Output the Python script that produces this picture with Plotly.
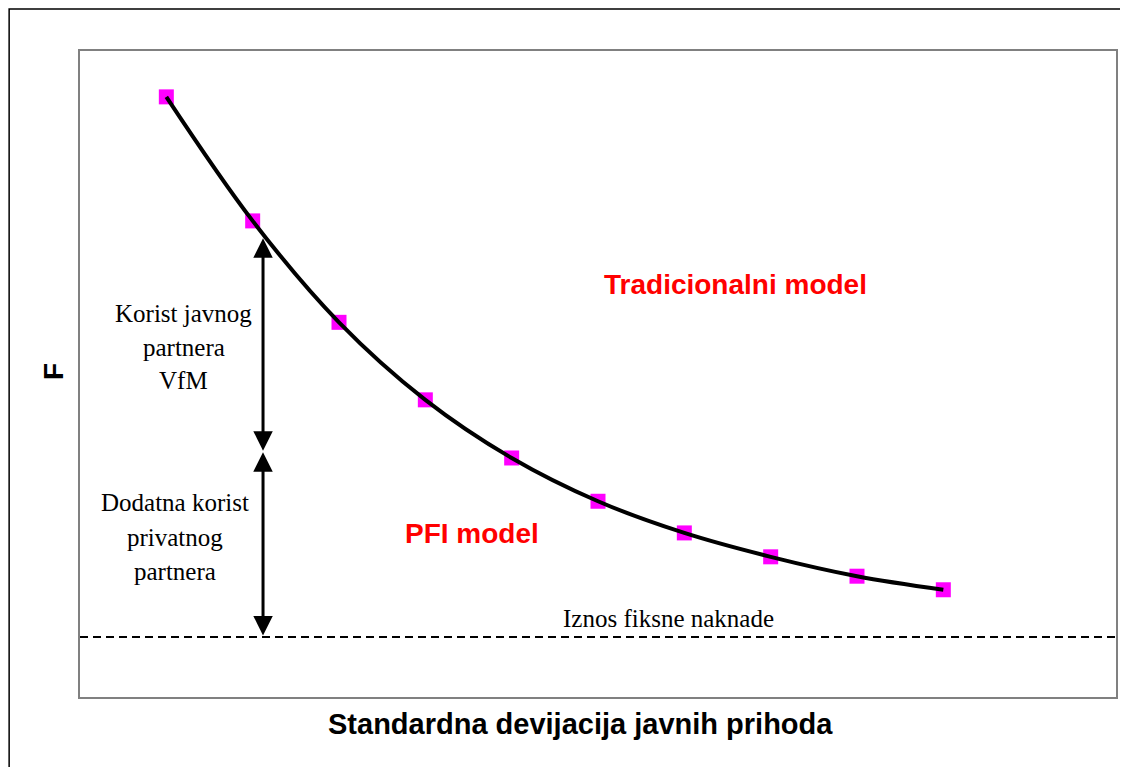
import plotly.graph_objects as go

# Data
x_points = [1, 2, 3, 4, 5, 6, 7, 8, 9, 10]
y_points = [92.9, 73.7, 58.0, 46.0, 37.0, 30.3, 25.4, 21.7, 18.7, 16.6]
fixed_fee = 9.3
arrow_x = 2.12
arrow_top = 71.0
arrow_mid = 37.9

korist_lines = ["Korist javnog", "partnera", "VfM"]
dodatna_lines = ["Dodatna korist", "privatnog", "partnera"]

# page body has an 8px margin: compensate so the plot lands where the reference has it
OFF = 8
W, H = 1128 - OFF, 767 - OFF
L, R, T, B = 80 - OFF, 10, 51 - OFF, 70
pw, ph = W - L - R, H - T - B


def px_to_paper_x(px):
    return (px - OFF - L) / pw


def py_to_paper_y(py):
    return (H - B - (py - OFF)) / ph


def py_to_val(py):
    return py_to_paper_y(py) * 100


def px_to_val(px):
    return px_to_paper_x(px) * 12


fig = go.Figure()

fig.add_trace(go.Scatter(
    x=x_points, y=y_points, mode="markers",
    marker=dict(symbol="square", size=15, color="#FF00FF", line=dict(width=0)),
    hoverinfo="skip", showlegend=False))
fig.add_trace(go.Scatter(
    x=x_points, y=y_points, mode="lines",
    line=dict(color="black", width=4, shape="spline"),
    hoverinfo="skip", showlegend=False))
fig.add_trace(go.Scatter(
    x=[0, 12], y=[fixed_fee, fixed_fee], mode="lines",
    line=dict(color="black", width=2, dash="8px,5px"),
    hoverinfo="skip", showlegend=False))

annotations = []
for (y_head, y_tail) in [(arrow_top, arrow_mid), (arrow_mid, fixed_fee)]:
    annotations.append(dict(
        x=arrow_x, y=y_head, ax=arrow_x, ay=y_tail, xref="x", yref="y",
        axref="x", ayref="y", text="", showarrow=True,
        arrowhead=2, startarrowhead=2, arrowside="end+start",
        arrowsize=1.3, startarrowsize=1.3, arrowwidth=3, arrowcolor="black",
        standoff=0, startstandoff=0))

serif = "Liberation Serif, Times New Roman, serif"
sans = "Liberation Sans, Arial, sans-serif"

for txt, py in zip(korist_lines, [313, 347, 380]):
    annotations.append(dict(x=px_to_val(184), y=py_to_val(py), xref="x", yref="y",
                            text=txt, showarrow=False, xanchor="center", yanchor="middle",
                            font=dict(family=serif, size=25, color="black")))
for txt, py in zip(dodatna_lines, [502, 537, 571]):
    annotations.append(dict(x=px_to_val(175), y=py_to_val(py), xref="x", yref="y",
                            text=txt, showarrow=False, xanchor="center", yanchor="middle",
                            font=dict(family=serif, size=25, color="black")))

annotations.append(dict(x=px_to_val(670), y=py_to_val(618), xref="x", yref="y",
                        text="Iznos fiksne naknade", showarrow=False,
                        xanchor="center", yanchor="middle",
                        font=dict(family=serif, size=25, color="black")))
annotations.append(dict(x=px_to_val(737), y=py_to_val(284), xref="x", yref="y",
                        text="<b>Tradicionalni model</b>", showarrow=False,
                        xanchor="center", yanchor="middle",
                        font=dict(family=sans, size=28, color="#FF0000")))
annotations.append(dict(x=px_to_val(473), y=py_to_val(533), xref="x", yref="y",
                        text="<b>PFI model</b>", showarrow=False,
                        xanchor="center", yanchor="middle",
                        font=dict(family=sans, size=28, color="#FF0000")))
annotations.append(dict(x=px_to_paper_x(581), y=py_to_paper_y(724), xref="paper", yref="paper",
                        text="<b>Standardna devijacija javnih prihoda</b>", showarrow=False,
                        xanchor="center", yanchor="middle",
                        font=dict(family=sans, size=29, color="black")))
annotations.append(dict(x=px_to_paper_x(53), y=py_to_paper_y(372), xref="paper", yref="paper",
                        text="<b>F</b>", showarrow=False, textangle=-90,
                        xanchor="center", yanchor="middle",
                        font=dict(family=sans, size=28, color="black")))

shapes = [dict(type="rect", xref="paper", yref="paper",
               x0=px_to_paper_x(9), y0=py_to_paper_y(767 + 20),
               x1=px_to_paper_x(1128 + 20), y1=py_to_paper_y(9),
               line=dict(color="black", width=1.5), fillcolor="rgba(0,0,0,0)", layer="above")]

fig.update_layout(
    width=W, height=H,
    margin=dict(l=L, r=R, t=T, b=B),
    paper_bgcolor="white", plot_bgcolor="white",
    showlegend=False,
    annotations=annotations,
    shapes=shapes,
    xaxis=dict(range=[0, 12], showgrid=False, zeroline=False, showticklabels=False,
               ticks="", showline=True, mirror=True, linecolor="#808080", linewidth=2),
    yaxis=dict(range=[0, 100], showgrid=False, zeroline=False, showticklabels=False,
               ticks="", showline=True, mirror=True, linecolor="#808080", linewidth=2),
)

fig.write_html("out.html")
